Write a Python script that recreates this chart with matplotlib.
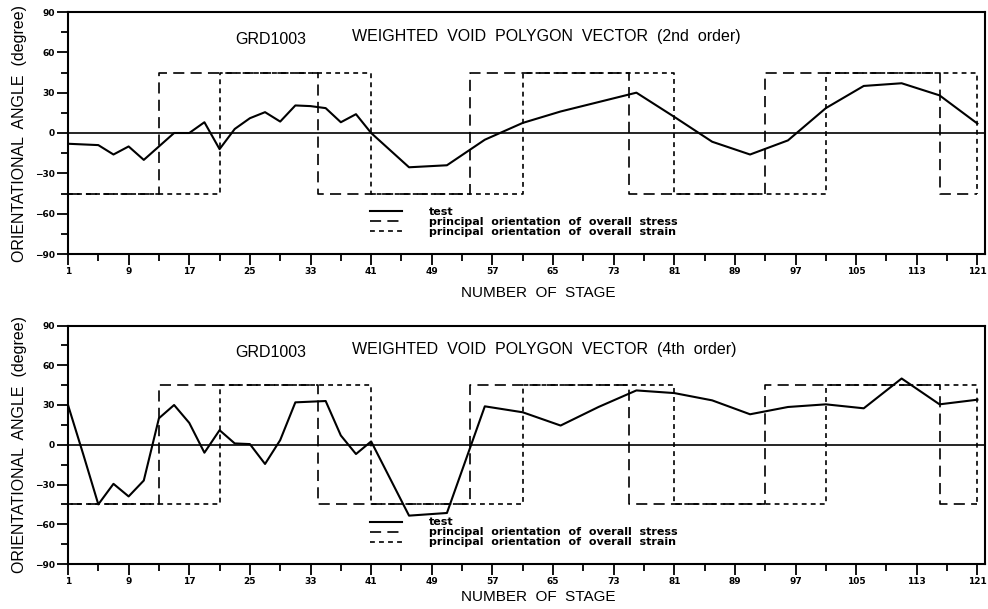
import numpy as np
import matplotlib
matplotlib.use("Agg")
import matplotlib.pyplot as plt
from matplotlib.ticker import FixedLocator

plt.rcParams['font.family'] = ['Liberation Sans', 'DejaVu Sans']
plt.rcParams['lines.scale_dashes'] = False

# ---------------- data ----------------
stages = [1, 3, 5, 7, 9, 11, 13, 15, 17, 19, 21, 23, 25, 27, 29, 31, 33, 35, 37, 39, 41,
          46, 51, 56, 61, 66, 71, 76, 81, 86, 91, 96, 101, 106, 111, 116, 121]

test_2nd = [-8, -8.5, -9, -16, -10, -20, -10, 0, 0, 8, -12, 3, 11, 15.5, 8.5, 20.5, 20, 18.5, 8, 14, 0,
            -25.5, -24, -5, 7.5, 16, 23, 30, 12, -6.5, -16, -5.5, 18.5, 35, 37, 28, 7]

test_4th = [30, -7, -45, -29.5, -39, -27, 20, 30, 16.5, -6, 11, 1, 0.5, -14.5, 3.5, 32, 32.5, 33, 7, -7, 2.5,
            -53.5, -51.5, 29, 24.5, 14.5, 28.5, 41, 39, 33.5, 23, 28.5, 30.5, 27.5, 50, 30.5, 34]

# principal orientation of overall stress (square wave): transition stages and levels
stress_edges = [1, 13, 34, 54, 75, 93, 116, 121]
stress_levels = [-45, 45, -45, 45, -45, 45, -45]
stress_start = 45

# principal orientation of overall strain
strain_edges = [1, 21, 41, 61, 81, 101, 121]
strain_levels = [-45, 45, -45, 45, -45, 45]
strain_end = -45

panels = [
    ("GRD1003", "WEIGHTED  VOID  POLYGON  VECTOR  (2nd  order)", test_2nd),
    ("GRD1003", "WEIGHTED  VOID  POLYGON  VECTOR  (4th  order)", test_4th),
]

x_major = list(range(1, 122, 8))
x_minor = list(range(5, 122, 8))
y_major = list(range(-90, 91, 30))
y_minor = list(range(-75, 90, 30))


def square_path(edges, levels, start=None, end=None):
    xs, ys = [], []
    if start is not None:
        xs.append(edges[0]); ys.append(start)
    for i, lv in enumerate(levels):
        xs += [edges[i], edges[i + 1]]
        ys += [lv, lv]
    if end is not None:
        xs.append(edges[-1]); ys.append(end)
    return xs, ys


fig = plt.figure(figsize=(9.88, 6.09), dpi=100)
W, H = 988.0, 609.0
axes_px = [(68, 12, 985, 254), (68, 325.5, 985, 564)]
xlabel_y = [-0.131, -0.11]

for k, (ax_px, (name, title, test)) in enumerate(zip(axes_px, panels)):
    l, t, r, b = ax_px
    ax = fig.add_axes([l / W, 1 - b / H, (r - l) / W, (b - t) / H])

    ax.axhline(0, color='black', lw=1.2, zorder=1)
    sx, sy = square_path(stress_edges, stress_levels, start=stress_start)
    ax.plot(sx, sy, color='black', lw=1.2, dashes=(8, 4.5), label='principal  orientation  of  overall  stress', zorder=2)
    tx, ty = square_path(strain_edges, strain_levels, end=strain_end)
    ax.plot(tx, ty, color='black', lw=1.2, dashes=(3.5, 3), label='principal  orientation  of  overall  strain', zorder=2)
    ax.plot(stages, test, color='black', lw=1.5, label='test', zorder=3)

    # legend: test first
    h, lab = ax.get_legend_handles_labels()
    order = [2, 0, 1]
    ax.legend([h[i] for i in order], [lab[i] for i in order],
              loc='upper left', bbox_to_anchor=((370 - l) / (r - l), 0.195),
              frameon=False, borderpad=0, borderaxespad=0,
              prop={'family': 'DejaVu Sans', 'weight': 'bold', 'size': 8},
              handlelength=2.9, handletextpad=2.4, labelspacing=0.0)

    ax.set_xlim(1, 122)
    ax.set_ylim(-90, 90)
    ax.xaxis.set_major_locator(FixedLocator(x_major))
    ax.xaxis.set_minor_locator(FixedLocator(x_minor))
    ax.yaxis.set_major_locator(FixedLocator(y_major))
    ax.yaxis.set_minor_locator(FixedLocator(y_minor))
    ax.tick_params(which='major', direction='out', length=8, width=1.3, pad=1.5, labelsize=6.5)
    ax.tick_params(which='minor', direction='out', length=5, width=1.3)
    for lbl in ax.get_xticklabels() + ax.get_yticklabels():
        lbl.set_fontfamily('DejaVu Sans')
        lbl.set_fontweight('bold')
    for sp in ax.spines.values():
        sp.set_linewidth(1.5)

    ax.text(0.182, 0.888, name, transform=ax.transAxes, fontsize=11.5, va='center', ha='left')
    ax.text(0.31, 0.898, title, transform=ax.transAxes, fontsize=11.5, va='center', ha='left')

    ax.set_ylabel('ORIENTATIONAL  ANGLE  (degree)', fontsize=11.5)
    ax.yaxis.set_label_coords(-0.045, 0.5)
    ax.set_xlabel('NUMBER  OF  STAGE', fontsize=11)
    ax.xaxis.set_label_coords(0.5125, xlabel_y[k])

fig.savefig('out.png', dpi=100)
